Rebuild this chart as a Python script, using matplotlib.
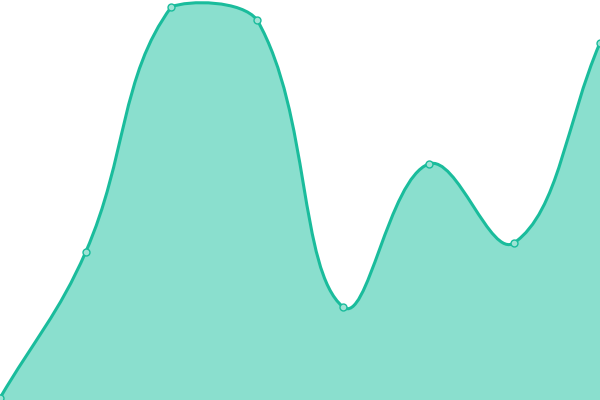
import numpy as np
import matplotlib
matplotlib.use("Agg")
import matplotlib.pyplot as plt
from matplotlib.path import Path
from matplotlib.patches import PathPatch

# data (y axis 0..100, x are category indexes)
labels = [0, 1, 2, 3, 4, 5, 6, 7]
values = [0.5, 37.0, 98.3, 95.0, 23.3, 59.0, 39.3, 89.3]

line_color = "#1abc9c"
fill_color = "#8adfce"
tension = 0.4

fig = plt.figure(figsize=(6, 4), dpi=100)
ax = fig.add_axes([0, 0, 1, 1])
ax.set_xlim(labels[0], labels[-1])
ax.set_ylim(0, 100)
ax.axis("off")

# chart.js style spline: control points use distances in screen space
pts = ax.transData.transform(np.column_stack([labels, values]))
n = len(pts)
ctrl_prev = pts.copy()
ctrl_next = pts.copy()
for i in range(n):
    prev = pts[i - 1] if i > 0 else pts[i]
    nxt = pts[i + 1] if i < n - 1 else pts[i]
    d01 = np.hypot(*(pts[i] - prev))
    d12 = np.hypot(*(nxt - pts[i]))
    tot = d01 + d12
    s01 = d01 / tot if tot else 0
    s12 = d12 / tot if tot else 0
    ctrl_prev[i] = pts[i] - tension * s01 * (nxt - prev)
    ctrl_next[i] = pts[i] + tension * s12 * (nxt - prev)

# keep control points inside the plot area (like chart.js does)
box = ax.bbox
for c in (ctrl_prev, ctrl_next):
    c[:, 0] = np.clip(c[:, 0], box.x0, box.x1)
    c[:, 1] = np.clip(c[:, 1], box.y0, box.y1)

inv = ax.transData.inverted()
pts_d = inv.transform(pts)
cp_d = inv.transform(ctrl_prev)
cn_d = inv.transform(ctrl_next)

verts = [pts_d[0]]
codes = [Path.MOVETO]
for i in range(1, n):
    verts += [cn_d[i - 1], cp_d[i], pts_d[i]]
    codes += [Path.CURVE4] * 3
line_path = Path(verts, codes)

area_verts = verts + [(labels[-1], 0), (labels[0], 0), verts[0]]
area_codes = codes + [Path.LINETO, Path.LINETO, Path.CLOSEPOLY]
ax.add_patch(PathPatch(Path(area_verts, area_codes), facecolor=fill_color,
                       edgecolor="none", zorder=1))
ax.add_patch(PathPatch(line_path, facecolor="none", edgecolor=line_color,
                       linewidth=2.2, zorder=2, capstyle="round"))

ax.plot(labels, values, "o", markersize=5, markerfacecolor="#9fe3d5",
        markeredgecolor=line_color, markeredgewidth=1, zorder=3, clip_on=False)

fig.savefig("out.png", dpi=100)
